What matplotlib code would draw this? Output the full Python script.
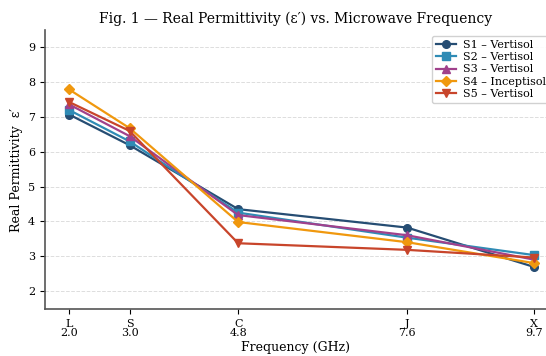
import matplotlib
matplotlib.use('Agg')
import matplotlib.pyplot as plt

# данные
freq = [2.0, 3.0, 4.8, 7.6, 9.7]
bands = ['L', 'S', 'C', 'J', 'X']
s1 = [7.07, 6.19, 4.35, 3.82, 2.69]
s2 = [7.20, 6.30, 4.25, 3.53, 3.03]
s3 = [7.36, 6.45, 4.18, 3.60, 2.90]
s4 = [7.79, 6.68, 3.98, 3.40, 2.80]
s5 = [7.43, 6.60, 3.37, 3.18, 2.96]
labels = ['S1 – Vertisol', 'S2 – Vertisol', 'S3 – Vertisol', 'S4 – Inceptisol', 'S5 – Vertisol']
colors = ['#264d73', '#2f8bb5', '#a0418c', '#f0980e', '#c8452b']
markers = ['o', 's', '^', 'D', 'v']

plt.rcParams['font.family'] = 'DejaVu Serif'

fig = plt.figure(figsize=(5.46, 3.56), dpi=100)
ax = fig.add_axes([45 / 546, 1 - 309 / 356, 1 - 45 / 546, (309 - 30) / 356])

for ys, lab, c, m in zip([s1, s2, s3, s4, s5], labels, colors, markers):
    ax.plot(freq, ys, color=c, marker=m, markersize=5.5, linewidth=1.6, label=lab)

ax.set_xlim(1.6, 9.9)
ax.set_ylim(1.48, 9.5)
ax.set_xticks(freq)
ax.set_xticklabels([f'{b}\n{f:.1f}' for b, f in zip(bands, freq)], fontsize=8, linespacing=0.95)
ax.set_yticks(range(2, 10))
ax.tick_params(axis='y', labelsize=8)
ax.set_xlabel('Frequency (GHz)', fontsize=9, labelpad=2)
ax.set_ylabel("Real Permittivity  ε′", fontsize=9)
ax.set_title("Fig. 1 — Real Permittivity (ε′) vs. Microwave Frequency", fontsize=10, pad=5)
ax.grid(axis='y', linestyle='--', color='#dddddd', linewidth=0.7)
ax.spines['top'].set_visible(False)
ax.spines['right'].set_visible(False)
for s in ['left', 'bottom']:
    ax.spines[s].set_color('#555555')
    ax.spines[s].set_linewidth(1.2)
ax.legend(loc='upper right', fontsize=8, framealpha=0.9, edgecolor='#cccccc',
          borderpad=0.4, labelspacing=0.2, handlelength=1.8, handletextpad=0.6,
          bbox_to_anchor=(1.02, 1.0))

fig.savefig('out.png', dpi=100)
